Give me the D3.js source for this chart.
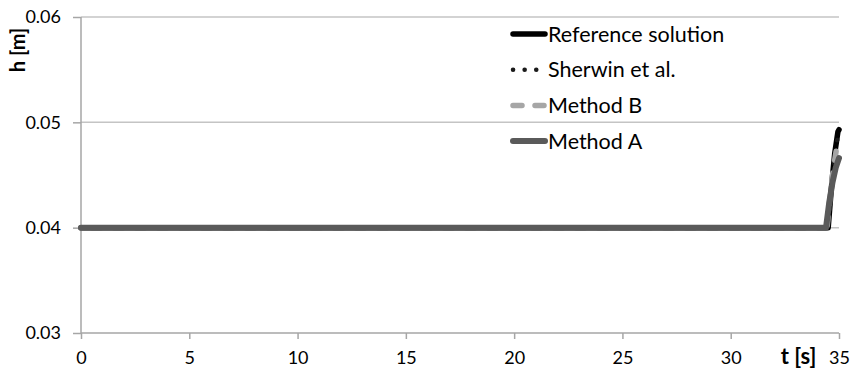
<!DOCTYPE html>
<html>
<head>
<meta charset="utf-8">
<script src="https://cdn.jsdelivr.net/npm/d3@7"></script>
<style>
  html, body { margin: 0; padding: 0; background: #fff; }
  svg { display: block; font-family: Lato, "Open Sans", sans-serif; }
</style>
</head>
<body>
<svg id="chart" width="855" height="378"></svg>
<script>
// Water depth h [m] over time t [s]
const xTicks = [0, 5, 10, 15, 20, 25, 30, 35];
const yTicks = [0.03, 0.04, 0.05, 0.06];

const tRef = [0, 10, 20, 30, 34.5, 34.65, 34.8, 34.9, 34.95, 35.0];
const hRef = [0.04, 0.04, 0.04, 0.04, 0.04, 0.0438, 0.0470, 0.0484, 0.0491, 0.0493];

const tSherwin = [0, 10, 20, 30, 34.5, 34.65, 34.8, 34.9, 35.0];
const hSherwin = [0.04, 0.04, 0.04, 0.04, 0.04, 0.0435, 0.0466, 0.0482, 0.0490];

const tMethodB = [0, 10, 20, 30, 34.45, 34.6, 34.75, 34.88, 35.0];
const hMethodB = [0.04, 0.04, 0.04, 0.04, 0.04, 0.0432, 0.0458, 0.0474, 0.0483];

const tMethodA = [0, 10, 20, 30, 34.4, 34.55, 34.7, 34.85, 35.0];
const hMethodA = [0.04, 0.04, 0.04, 0.04, 0.04, 0.0424, 0.0443, 0.0457, 0.0466];

const seriesNames = ["Reference solution", "Sherwin et al.", "Method B", "Method A"];

const series = [
  { name: seriesNames[0], t: tRef, h: hRef, color: "#000000", width: 5.5, dash: null },
  { name: seriesNames[1], t: tSherwin, h: hSherwin, color: "#1a1a1a", width: 4.5, dash: "0.1 11.5" },
  { name: seriesNames[2], t: tMethodB, h: hMethodB, color: "#a6a6a6", width: 5.5, dash: "9 13" },
  { name: seriesNames[3], t: tMethodA, h: hMethodA, color: "#5a5a5a", width: 6, dash: null }
];

const svg = d3.select("#chart");
const x = d3.scaleLinear().domain([0, 35]).range([81, 839]);
const y = d3.scaleLinear().domain([0.03, 0.06]).range([333, 17]);

// horizontal gridlines
svg.append("g").selectAll("line").data(yTicks.filter(d => d > 0.03)).join("line")
  .attr("x1", x(0)).attr("x2", x(35))
  .attr("y1", d => y(d)).attr("y2", d => y(d))
  .attr("stroke", "#c4c4c4").attr("stroke-width", 1.5);

// y axis
const yAxis = d3.axisLeft(y).tickValues(yTicks).tickFormat(d3.format(".2f")).tickSize(8).tickPadding(12);
const gy = svg.append("g").attr("transform", `translate(${x(0)},0)`).call(yAxis);
gy.select(".domain").attr("stroke", "#a6a6a6").attr("stroke-width", 1.5).attr("d", `M0,${y(0.06)}V${y(0.03)}`);
gy.selectAll(".tick line").attr("stroke", "#a6a6a6").attr("stroke-width", 1.5);
gy.selectAll(".tick text").attr("font-size", 18).attr("fill", "#000").attr("font-family", "Lato, sans-serif");

// x axis
const xAxis = d3.axisBottom(x).tickValues(xTicks).tickFormat(d3.format("d")).tickSize(6).tickPadding(12);
const gx = svg.append("g").attr("transform", `translate(0,${y(0.03)})`).call(xAxis);
gx.select(".domain").attr("stroke", "#a6a6a6").attr("stroke-width", 1.5).attr("d", `M${x(0)},0H${x(35)}`);
gx.selectAll(".tick line").attr("stroke", "#a6a6a6").attr("stroke-width", 1.5);
gx.selectAll(".tick text").attr("font-size", 18).attr("fill", "#000").attr("font-family", "Lato, sans-serif");

// axis titles
svg.append("text").attr("transform", "translate(25,50) rotate(-90)")
  .attr("text-anchor", "middle").attr("font-size", 20).attr("font-weight", "bold").text("h [m]");
svg.append("text").attr("x", 798.5).attr("y", 364)
  .attr("text-anchor", "middle").attr("font-size", 22).attr("font-weight", "bold").text("t [s]");

// series lines
const line = d3.line().x(d => x(d[0])).y(d => y(d[1]));
svg.append("g").selectAll("path").data(series).join("path")
  .attr("d", s => line(s.t.map((t, i) => [t, s.h[i]])))
  .attr("fill", "none")
  .attr("stroke", s => s.color)
  .attr("stroke-width", s => s.width)
  .attr("stroke-linecap", "round")
  .attr("stroke-linejoin", "round")
  .attr("stroke-dasharray", s => s.dash);

// legend
const legend = svg.append("g").selectAll("g").data(series).join("g")
  .attr("transform", (d, i) => `translate(0,${34 + i * 35.7})`);
legend.append("line")
  .attr("x1", 513).attr("x2", 545).attr("y1", 0).attr("y2", 0)
  .attr("stroke", s => s.color)
  .attr("stroke-width", s => s.width)
  .attr("stroke-linecap", "round")
  .attr("stroke-dasharray", s => s.dash);
legend.append("text")
  .attr("x", 548).attr("y", 7.5)
  .attr("font-size", 21.5).attr("fill", "#000")
  .text(s => s.name);
</script>
</body>
</html>
